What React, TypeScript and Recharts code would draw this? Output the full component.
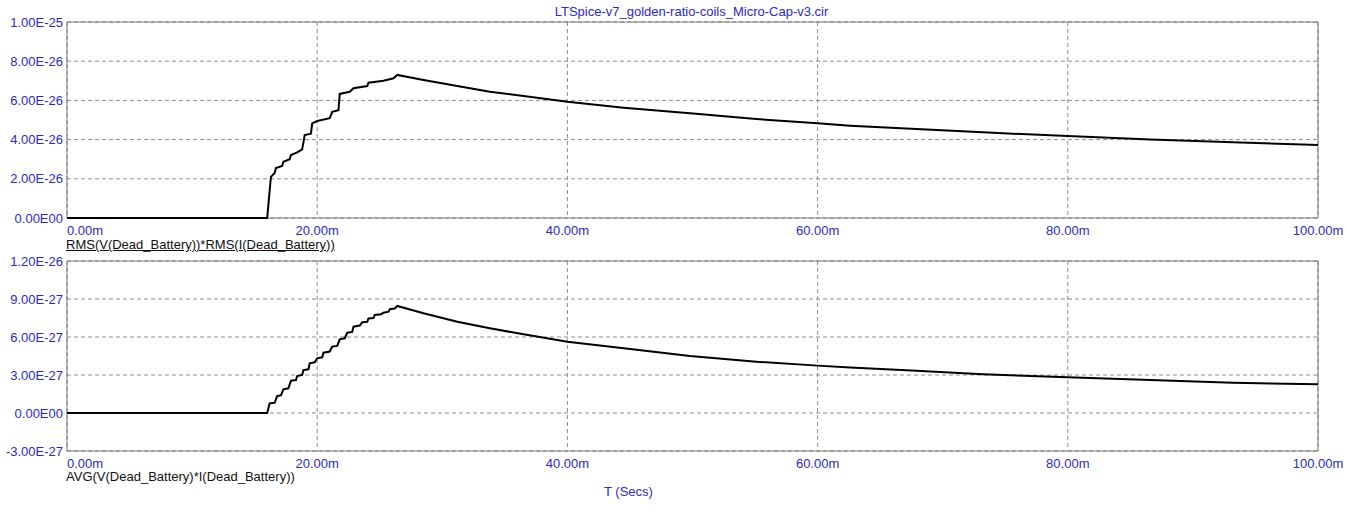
import React from 'react';
import {
  LineChart,
  Line,
  XAxis,
  YAxis,
  CartesianGrid,
  ReferenceArea,
} from 'recharts';

// time in ms
const timeTop = [0, 16.0, 16.3, 16.6, 16.7, 17.2, 17.3, 17.8, 17.9, 18.4, 18.8, 19.0, 19.5, 19.6, 20.0, 21.0, 21.2, 21.7, 21.8, 22.6, 22.9, 24.0, 24.1, 25.3, 26.1, 26.4, 28.5, 31.2, 33.8, 36.5, 40, 44.5, 49.8, 55.1, 60, 62.6, 67.9, 73.2, 80, 86.6, 93.2, 100];
// RMS(V)*RMS(I), units of 1e-26
const rmsPower = [0, 0, 2.1, 2.3, 2.55, 2.65, 2.87, 3.0, 3.21, 3.35, 3.5, 4.23, 4.3, 4.83, 4.95, 5.09, 5.42, 5.5, 6.33, 6.44, 6.62, 6.73, 6.9, 7.0, 7.13, 7.3, 7.04, 6.73, 6.44, 6.22, 5.93, 5.63, 5.34, 5.05, 4.83, 4.71, 4.54, 4.37, 4.18, 4.01, 3.86, 3.72];

const timeBottom = [0, 16.0, 16.2, 16.6, 16.8, 17.1, 17.3, 17.7, 17.9, 18.3, 18.4, 18.8, 18.9, 19.3, 19.4, 19.8, 20.0, 20.4, 20.5, 21.0, 21.2, 21.6, 21.8, 22.2, 22.4, 22.8, 22.9, 23.4, 23.6, 24.0, 24.1, 24.5, 24.6, 25.1, 25.3, 25.7, 25.8, 26.2, 26.4, 28.5, 31.2, 33.8, 36.5, 40, 44.5, 49.8, 55.1, 60, 62.6, 67.9, 73.2, 80, 86.6, 93.2, 100];
// AVG(V*I), units of 1e-27
const avgPower = [0, 0, 0.76, 0.8, 1.34, 1.4, 1.87, 1.95, 2.55, 2.6, 2.92, 3.0, 3.39, 3.45, 3.92, 4.0, 4.32, 4.4, 4.76, 4.85, 5.24, 5.3, 5.82, 5.9, 6.34, 6.4, 6.81, 6.9, 7.16, 7.2, 7.47, 7.5, 7.74, 7.8, 7.92, 8.0, 8.19, 8.25, 8.45, 7.87, 7.21, 6.69, 6.21, 5.63, 5.11, 4.5, 4.05, 3.74, 3.6, 3.34, 3.05, 2.82, 2.61, 2.39, 2.26];

const xTicks = [0, 20, 40, 60, 80, 100];
const topTicks = [0, 2, 4, 6, 8, 10];
const bottomTicks = [-3, 0, 3, 6, 9, 12];

const title = 'LTSpice-v7_golden-ratio-coils_Micro-Cap-v3.cir';
const topLabel = 'RMS(V(Dead_Battery))*RMS(I(Dead_Battery))';
const bottomLabel = 'AVG(V(Dead_Battery)*I(Dead_Battery))';
const xLabel = 'T (Secs)';

const BLUE = '#2a2ac8';
const FONT = '"Liberation Sans", Arial, sans-serif';
const GRID = '#8c8c8c';

const topData = timeTop.map((t, i) => ({ t, v: rmsPower[i] }));
const bottomData = timeBottom.map((t, i) => ({ t, v: avgPower[i] }));

// 1.00E-25 style labels
const fmtE = (v: number, base: number) => {
  if (v === 0) return '0.00E00';
  const e = Math.floor(Math.log10(Math.abs(v)) + 1e-9);
  const m = v / Math.pow(10, e);
  const exp = e + base;
  const sign = exp < 0 ? '-' : '';
  return `${m.toFixed(2)}E${sign}${String(Math.abs(exp)).padStart(2, '0')}`;
};

const XTick = (props: any) => {
  const { x, y, payload, index } = props;
  return (
    <text
      x={x}
      y={y + 15}
      textAnchor={index === 0 ? 'start' : 'middle'}
      fill={BLUE}
      fontSize={13}
      fontFamily={FONT}
    >
      {`${payload.value.toFixed(2)}m`}
    </text>
  );
};

const makeYTick = (base: number) => (props: any) => {
  const { x, y, payload } = props;
  return (
    <text x={x - 2} y={y + 4.5} textAnchor="end" fill={BLUE} fontSize={13} fontFamily={FONT}>
      {fmtE(payload.value, base)}
    </text>
  );
};

function Panel({
  data,
  height,
  top,
  xAxisHeight,
  domain,
  ticks,
  base,
}: {
  data: { t: number; v: number }[];
  height: number;
  top: number;
  xAxisHeight: number;
  domain: [number, number];
  ticks: number[];
  base: number;
}) {
  return (
    <LineChart
      width={1353}
      height={height}
      data={data}
      margin={{ top, right: 35, left: 0, bottom: 0 }}
    >
      <CartesianGrid stroke={GRID} strokeDasharray="4 3" />
      <XAxis
        dataKey="t"
        type="number"
        domain={[0, 100]}
        ticks={xTicks}
        height={xAxisHeight}
        axisLine={false}
        tickLine={false}
        tickSize={0}
        tick={<XTick />}
        interval={0}
      />
      <YAxis
        type="number"
        domain={domain}
        ticks={ticks}
        width={67}
        axisLine={false}
        tickLine={false}
        tickSize={0}
        tick={makeYTick(base)}
        interval={0}
      />
      <ReferenceArea
        x1={0}
        x2={100}
        y1={domain[0]}
        y2={domain[1]}
        fill="none"
        stroke="#7a7a7a"
        strokeWidth={1}
      />
      <Line
        dataKey="v"
        type="linear"
        stroke="#000"
        strokeWidth={2}
        dot={false}
        isAnimationActive={false}
      />
    </LineChart>
  );
}

export default function App() {
  return (
    <div
      style={{
        position: 'absolute',
        left: 0,
        top: 0,
        width: 1353,
        height: 513,
        background: '#fff',
        fontFamily: FONT,
      }}
    >
      <div style={{ position: 'absolute', left: 0, top: 0 }}>
        <Panel data={topData} height={255} top={22} xAxisHeight={37} domain={[0, 10]} ticks={topTicks} base={-26} />
      </div>
      <div style={{ position: 'absolute', left: 0, top: 255 }}>
        <Panel data={bottomData} height={258} top={6} xAxisHeight={62} domain={[-3, 12]} ticks={bottomTicks} base={-27} />
      </div>
      <div style={{ position: 'absolute', left: 0, width: 1383, top: 4, textAlign: 'center', color: BLUE, fontSize: 13, lineHeight: '16px' }}>
        {title}
      </div>
      <div style={{ position: 'absolute', left: 66, top: 237, color: '#111', fontSize: 13, lineHeight: '16px', textDecoration: 'underline' }}>
        {topLabel}
      </div>
      <div style={{ position: 'absolute', left: 66, top: 469, color: '#111', fontSize: 13, lineHeight: '16px' }}>
        {bottomLabel}
      </div>
      <div style={{ position: 'absolute', left: 604, top: 484, color: BLUE, fontSize: 13, lineHeight: '16px' }}>
        {xLabel}
      </div>
    </div>
  );
}
